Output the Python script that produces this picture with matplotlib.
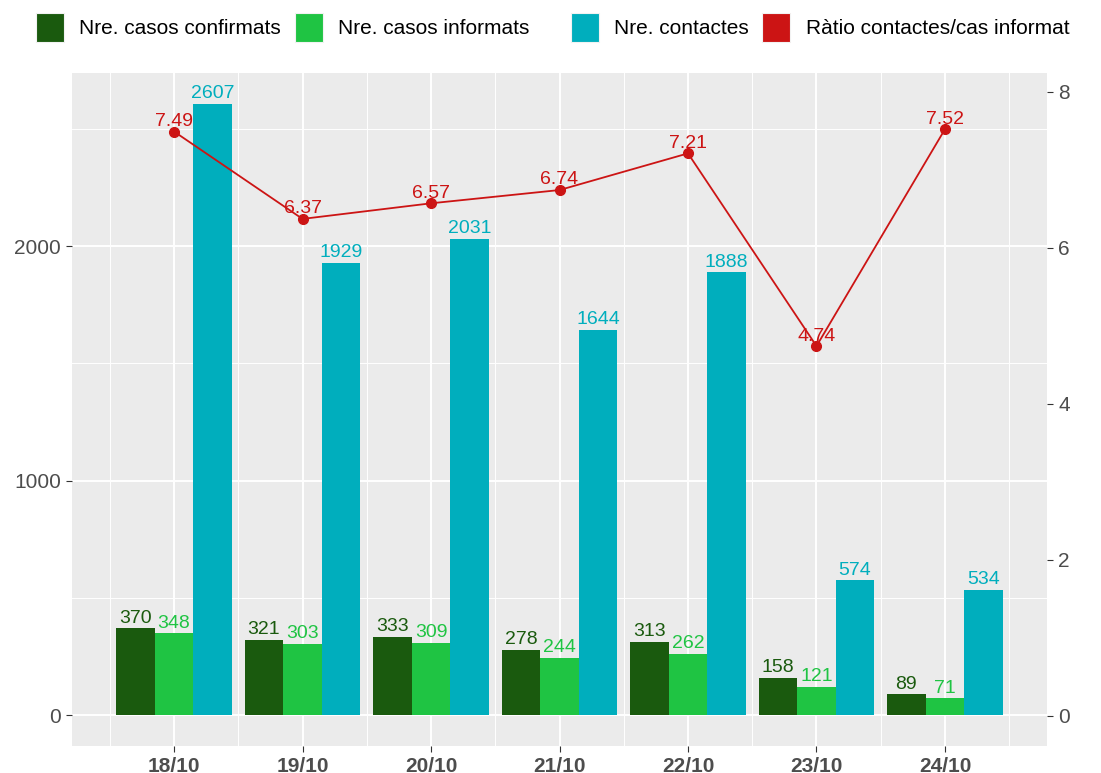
import numpy as np
import matplotlib
matplotlib.use('Agg')
import matplotlib.pyplot as plt
from matplotlib.patches import Rectangle

plt.rcParams['font.family'] = ['Liberation Sans', 'DejaVu Sans']

# Data
dates = ['18/10', '19/10', '20/10', '21/10', '22/10', '23/10', '24/10']
confirmats = [370, 321, 333, 278, 313, 158, 89]
informats = [348, 303, 309, 244, 262, 121, 71]
contactes = [2607, 1929, 2031, 1644, 1888, 574, 534]
ratio = [7.49, 6.37, 6.57, 6.74, 7.21, 4.74, 7.52]

series_names = ['Nre. casos confirmats', 'Nre. casos informats', 'Nre. contactes',
                'Ràtio contactes/cas informat']
colors = ['#1a5a0e', '#1fc443', '#00aebd', '#cc1414']

W, H = 1101, 773
fig = plt.figure(figsize=(W / 100, H / 100), dpi=100)
ax = fig.add_axes([72 / W, 1 - 746 / H, (1047 - 72) / W, (746 - 73) / H])
ax.set_facecolor('#EBEBEB')
for s in ax.spines.values():
    s.set_visible(False)

x = np.arange(len(dates))
bw = 0.3
bar_series = [confirmats, informats, contactes]
for i, vals in enumerate(bar_series):
    xs = x + (i - 1) * bw
    ax.bar(xs, vals, width=bw, color=colors[i], zorder=2)
    for xi, v in zip(xs, vals):
        ax.annotate(str(v), (xi, v), xytext=(0, 4), textcoords='offset points',
                    ha='center', va='baseline', fontsize=14, color=colors[i], zorder=4)

ax.set_xlim(-0.794, 6.794)
ax.set_ylim(-132, 2738)
ax.set_xticks(x)
ax.set_xticklabels(dates, fontsize=15, fontweight='bold', color='#4D4D4D')
ax.set_xticks(x[:-1] + 0.5, minor=True)
ax.set_xticks(np.append(x - 0.5, x[-1] + 0.5), minor=True)
ax.set_yticks([0, 1000, 2000])
ax.set_yticks([500, 1500, 2500], minor=True)
ax.tick_params(axis='y', labelsize=15, labelcolor='#4D4D4D', color='#333333', length=4, pad=4)
ax.tick_params(axis='x', color='#333333', length=4, pad=4)
ax.tick_params(which='minor', length=0)
ax.grid(which='major', color='white', linewidth=1.4, zorder=0)
ax.grid(which='minor', color='white', linewidth=0.7, zorder=0)
ax.set_axisbelow(True)

# Ratio on secondary axis
ax2 = ax.twinx()
ax2.patch.set_visible(False)
for s in ax2.spines.values():
    s.set_visible(False)
ax2.set_ylim(-0.385, 8.24)
ax2.set_yticks([0, 2, 4, 6, 8])
ax2.tick_params(axis='y', labelsize=15, labelcolor='#4D4D4D', color='#333333', length=4, pad=4)
ax2.plot(x, ratio, color=colors[3], linewidth=1.3, marker='o', markersize=7, zorder=3)
for xi, v in zip(x, ratio):
    ax2.annotate(f'{v:.2f}', (xi, v), xytext=(0, 4), textcoords='offset points',
                 ha='center', va='baseline', fontsize=14, color=colors[3])

# Legend across the top
sq_x = [36, 295, 571, 762]
txt_x = [79, 338, 614, 806]
for sx, tx, name, c in zip(sq_x, txt_x, series_names, colors):
    fig.add_artist(Rectangle((sx / W, 1 - 42 / H), 28 / W, 29 / H,
                             transform=fig.transFigure, facecolor=c, edgecolor='#f2f2f2', linewidth=0.8))
    fig.text(tx / W, 1 - 28 / H, name, fontsize=15, ha='left', va='center', color='black')

fig.savefig('out.png', dpi=100)
